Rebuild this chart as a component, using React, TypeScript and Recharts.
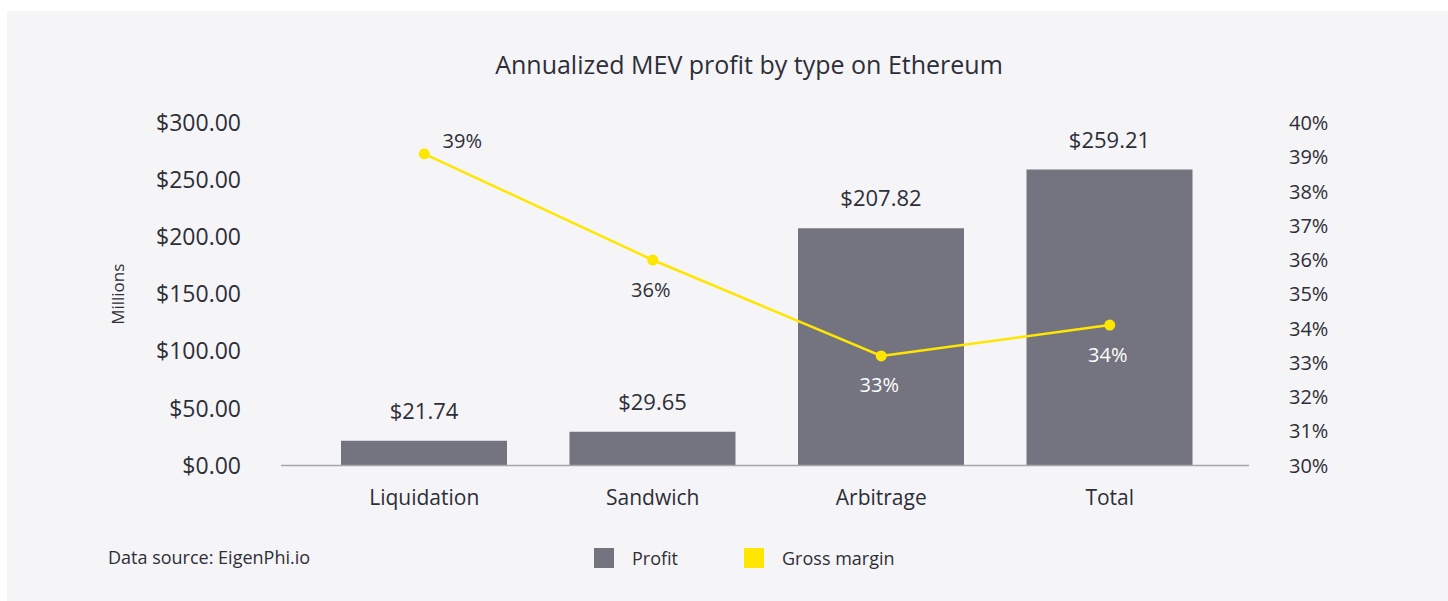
import React from "react";
import {
  Bar,
  ComposedChart,
  LabelList,
  Legend,
  Line,
  XAxis,
  YAxis,
} from "recharts";

const categories = ["Liquidation", "Sandwich", "Arbitrage", "Total"];
const profit = [21.74, 29.65, 207.82, 259.21];
const grossMargin = [39.1, 36.0, 33.2, 34.1];
const profitTicks = [0, 50, 100, 150, 200, 250, 300];
const marginTicks = [30, 31, 32, 33, 34, 35, 36, 37, 38, 39, 40];
const seriesOrder = ["Profit", "Gross margin"];

const data = categories.map((name, i) => ({
  name,
  profit: profit[i],
  margin: grossMargin[i],
}));

const FONT = "'Open Sans', sans-serif";
const INK = "#2e2e38";
const BAR = "#747480";
const YELLOW = "#ffe600";

function MarginLabel(props: any) {
  const { x, y, value, index } = props;
  const first = index === 0;
  return (
    <text
      x={first ? x + 38 : x - 2}
      y={first ? y - 13 : y + 29}
      textAnchor="middle"
      dominantBaseline="central"
      fontSize={20}
      fontFamily={FONT}
      fill={index >= 2 ? "#ffffff" : INK}
    >
      {`${Math.round(value)}%`}
    </text>
  );
}

function LegendBox(props: any) {
  const items = [...(props.payload ?? [])].sort(
    (a: any, b: any) => seriesOrder.indexOf(a.value) - seriesOrder.indexOf(b.value),
  );
  return (
    <div style={{ display: "flex", alignItems: "center", fontFamily: FONT, fontSize: 18, color: INK }}>
      {items.map((item: any) => (
        <div key={item.value} style={{ display: "flex", alignItems: "center", marginRight: 66 }}>
          <span style={{ width: 20, height: 20, background: item.color, display: "inline-block", marginRight: 18 }} />
          <span>{item.value}</span>
        </div>
      ))}
    </div>
  );
}

export default function App() {
  return (
    <div style={{ position: "absolute", left: 0, top: 0, width: 1448, height: 601, fontFamily: FONT }}>
      <div style={{ position: "absolute", left: 7, top: 11, width: 1441, height: 590, background: "#f5f5f7" }} />
      <div
        style={{
          position: "absolute",
          left: 0,
          width: 1498,
          top: 47,
          textAlign: "center",
          fontSize: 25,
          fontWeight: 500,
          color: INK,
        }}
      >
        Annualized MEV profit by type on Ethereum
      </div>
      <div style={{ position: "absolute", left: 108, top: 545, fontSize: 18, color: INK }}>
        Data source: EigenPhi.io
      </div>
      <div style={{ position: "absolute", left: 0, top: 0 }}>
        <ComposedChart
          width={1448}
          height={601}
          data={data}
          margin={{ top: 123, right: 0, bottom: 75.5, left: 0 }}
        >
          <XAxis
            dataKey="name"
            height={60}
            padding={{ left: 29, right: 25 }}
            axisLine={{ stroke: "#a6a6a6", strokeWidth: 1.5 }}
            tickLine={false}
            tickSize={0}
            tickMargin={25}
            tick={{ fontSize: 21, fill: INK, fontFamily: FONT }}
          />
          <YAxis
            yAxisId="left"
            width={281}
            domain={[0, 300]}
            ticks={profitTicks}
            axisLine={false}
            tickLine={false}
            tickSize={0}
            tickMargin={40}
            tick={{ fontSize: 23, fill: INK, fontFamily: FONT }}
            tickFormatter={(v: number) => `$${v.toFixed(2)}`}
            label={{
              value: "Millions",
              angle: -90,
              position: "center",
              dx: -23,
              fontSize: 17,
              fill: INK,
              fontFamily: FONT,
            }}
          />
          <YAxis
            yAxisId="right"
            orientation="right"
            width={199}
            domain={[30, 40]}
            ticks={marginTicks}
            axisLine={false}
            tickLine={false}
            tickSize={0}
            tickMargin={40}
            tick={{ fontSize: 20, fill: INK, fontFamily: FONT }}
            tickFormatter={(v: number) => `${v}%`}
          />
          <Legend
            verticalAlign="middle"
            layout="horizontal"
            wrapperStyle={{ position: "absolute", left: 594, top: 546, width: "auto" }}
            content={LegendBox}
          />
          <Bar yAxisId="left" dataKey="profit" name="Profit" fill={BAR} barSize={166} isAnimationActive={false}>
            <LabelList
              dataKey="profit"
              position="top"
              offset={22}
              formatter={(v: any) => `$${Number(v).toFixed(2)}`}
              style={{ fontSize: 22, fill: INK, fontFamily: FONT }}
            />
          </Bar>
          <Line
            yAxisId="right"
            dataKey="margin"
            name="Gross margin"
            stroke={YELLOW}
            strokeWidth={2.5}
            dot={{ r: 5.5, fill: YELLOW, stroke: YELLOW, strokeWidth: 0 }}
            activeDot={false}
            isAnimationActive={false}
          >
            <LabelList dataKey="margin" content={MarginLabel} />
          </Line>
        </ComposedChart>
      </div>
    </div>
  );
}
